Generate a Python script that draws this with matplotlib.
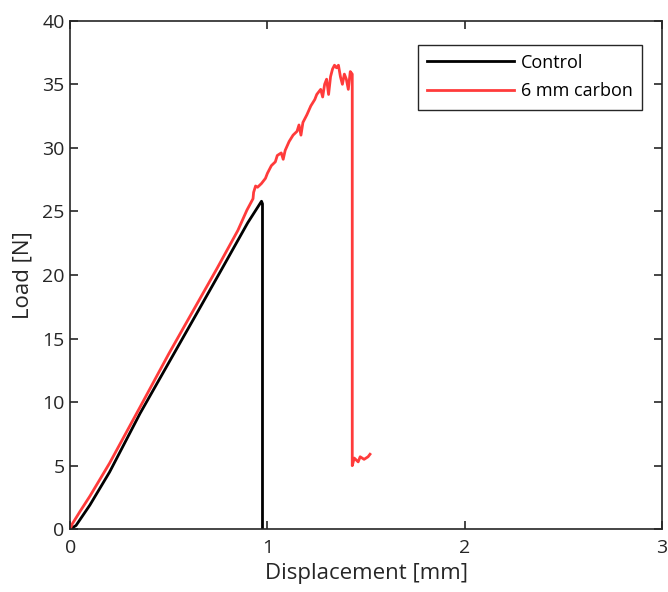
import matplotlib
matplotlib.use("Agg")
import matplotlib.pyplot as plt

plt.rcParams['font.family'] = ['Open Sans', 'DejaVu Sans']

# control specimen
ctrl_x = [0, 0.03, 0.1, 0.2, 0.354, 0.5, 0.65, 0.77, 0.9, 0.97, 0.975, 0.975]
ctrl_y = [0, 0.3, 1.9, 4.5, 9.1, 13.1, 17.2, 20.5, 24.1, 25.8, 25.6, 0]

# 6 mm carbon specimen
carb_x = [0, 0.01, 0.05, 0.1, 0.2, 0.354, 0.5, 0.744, 0.85, 0.896, 0.927,
          0.93, 0.94, 0.95, 0.97, 0.99, 1.0, 1.02, 1.04, 1.05, 1.07, 1.08, 1.09,
          1.11, 1.13, 1.15, 1.16, 1.17, 1.18, 1.2, 1.22, 1.24, 1.25, 1.27, 1.28,
          1.29, 1.3, 1.31, 1.32, 1.33, 1.34, 1.35, 1.36, 1.37, 1.38, 1.39, 1.40,
          1.41, 1.42, 1.43, 1.43, 1.44, 1.46, 1.47, 1.49, 1.51, 1.52]
carb_y = [0, 0.4, 1.4, 2.6, 5.2, 9.6, 13.8, 20.5, 23.5, 25.1, 26.0,
          26.5, 27.0, 26.9, 27.2, 27.6, 28.0, 28.6, 28.9, 29.4, 29.6, 29.1, 29.8,
          30.5, 31.0, 31.3, 31.8, 31.0, 32.0, 32.6, 33.3, 33.8, 34.2, 34.6, 34.0,
          35.0, 35.4, 34.2, 35.6, 36.2, 36.5, 36.3, 36.5, 35.6, 35.0, 35.8, 35.4,
          34.6, 36.0, 35.8, 5.0, 5.6, 5.3, 5.7, 5.5, 5.7, 5.9]

fig = plt.figure(figsize=(6.68, 5.92), dpi=100)
ax = fig.add_axes([0.105, 0.106, 0.886, 0.859])

ax.plot(ctrl_x, ctrl_y, color='black', lw=2, label='Control')
ax.plot(carb_x, carb_y, color='#ff3b3b', lw=2, label='6 mm carbon')

ax.set_xlim(0, 3)
ax.set_ylim(0, 40)
ax.set_xticks([0, 1, 2, 3])
ax.set_yticks(range(0, 41, 5))
ax.tick_params(direction='in', top=True, right=True, length=6, width=1.2,
               labelsize=14, colors='#262626')
ax.tick_params(axis='x', pad=7)
ax.tick_params(axis='y', pad=4)
for s in ax.spines.values():
    s.set_color('#262626')
    s.set_linewidth(1.2)

ax.set_xlabel('Displacement [mm]', fontsize=16, color='#262626', labelpad=4)
ax.set_ylabel('Load [N]', fontsize=16, color='#262626', labelpad=6)

leg = ax.legend(loc='upper right', bbox_to_anchor=(0.966, 0.953),
                borderaxespad=0, fontsize=13,
                handlelength=4.8, handletextpad=0.4, fancybox=False,
                framealpha=1, edgecolor='#262626', borderpad=0.5,
                labelspacing=0.6)
leg.get_frame().set_linewidth(1.0)

fig.savefig('out.png', dpi=100)
